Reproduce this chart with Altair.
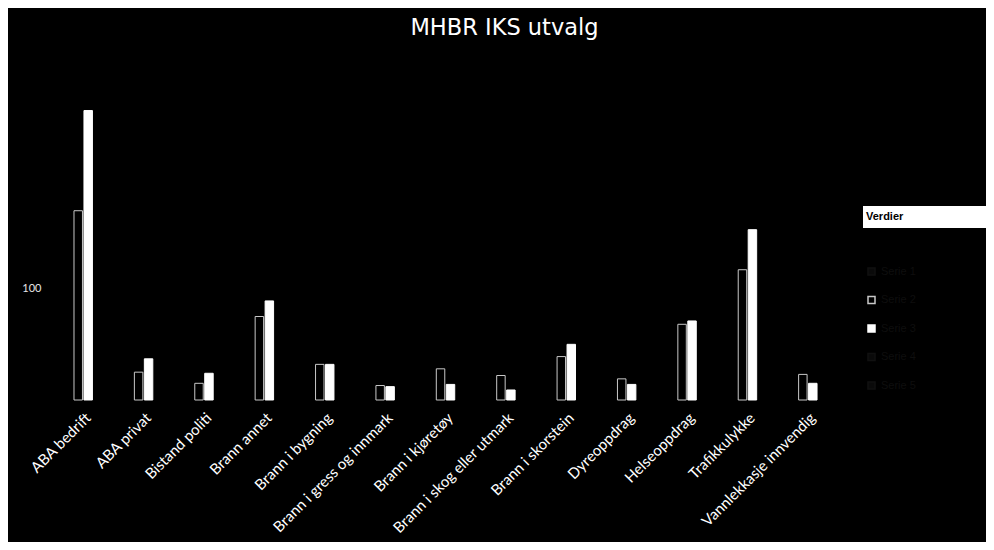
import altair as alt
import pandas as pd

categories = ["ABA bedrift", "ABA privat", "Bistand politi", "Brann annet",
              "Brann i bygning", "Brann i gress og innmark", "Brann i kjøretøy",
              "Brann i skog eller utmark", "Brann i skorstein", "Dyreoppdrag",
              "Helseoppdrag", "Trafikkulykke", "Vannlekkasje innvendig"]
series_names = ["Serie 1", "Serie 2", "Serie 3", "Serie 4", "Serie 5"]
serie2 = [170, 25, 15, 75, 32, 13, 28, 22, 39, 19, 68, 117, 23]
serie3 = [260, 37, 24, 89, 32, 12, 14, 9, 50, 14, 71, 153, 15]
y_ticks = [100]

rows = []
for c, v in zip(categories, serie2):
    rows.append({"Kategori": c, "Serie": "Serie 2", "Verdi": v})
for c, v in zip(categories, serie3):
    rows.append({"Kategori": c, "Serie": "Serie 3", "Verdi": v})
df = pd.DataFrame(rows)

fills = ["#0a0a0a", "#000000", "#ffffff", "#0a0a0a", "#0a0a0a"]
strokes = ["#101010", "#c8c8c8", "#ffffff", "#101010", "#101010"]

legend = alt.Legend(title="Verdier", orient="none", legendX=808, legendY=145,
                    titleColor="black", titleFont="Liberation Sans",
                    titleFontWeight="bold", titleFontSize=11, titlePadding=44,
                    labelColor="#0e0e0e", labelFontSize=11, symbolType="square",
                    symbolSize=49, rowPadding=15.5, padding=0, zindex=2)

bars = alt.Chart(df).mark_bar(strokeWidth=1).encode(
    x=alt.X("Kategori:N", sort=categories, title=None,
            scale=alt.Scale(paddingInner=0.2, paddingOuter=0.1),
            axis=alt.Axis(labelAngle=-45, labelAlign="right", labelBaseline="middle",
                          labelColor="white", labelFont="Lato", labelFontSize=15,
                          labelPadding=15, domain=False, ticks=False, labelLimit=300)),
    xOffset=alt.XOffset("Serie:N", scale=alt.Scale(domain=series_names, paddingInner=0.15)),
    y=alt.Y("Verdi:Q", title=None, scale=alt.Scale(domain=[0, 300]),
            axis=alt.Axis(values=y_ticks, domain=False, ticks=False, grid=False,
                          labelColor="#e6e6e6", labelFont="Lato", labelFontSize=11,
                          labelPadding=17)),
    fill=alt.Fill("Serie:N", scale=alt.Scale(domain=series_names, range=fills), legend=legend),
    stroke=alt.Stroke("Serie:N", scale=alt.Scale(domain=series_names, range=strokes), legend=legend),
)

box = alt.Chart(pd.DataFrame({"t": ["Verdier"]})).mark_rect(color="white").encode(
    x=alt.value(805), x2=alt.value(928), y=alt.value(140), y2=alt.value(162))

chart = alt.layer(box, bars).properties(
    width=785, height=334,
    padding={"left": 50, "top": 58, "right": 143, "bottom": 142},
    autosize=alt.AutoSizeParams(type="none"),
    background="black",
    title=alt.TitleParams("MHBR IKS utvalg", color="white", font="DejaVu Sans",
                          fontSize=22.5, fontWeight="normal", anchor="middle",
                          frame="group", dx=54, baseline="alphabetic", offset=9),
).configure_view(stroke=None)

chart.save("out.html", embed_options={"renderer": "svg", "actions": False})
